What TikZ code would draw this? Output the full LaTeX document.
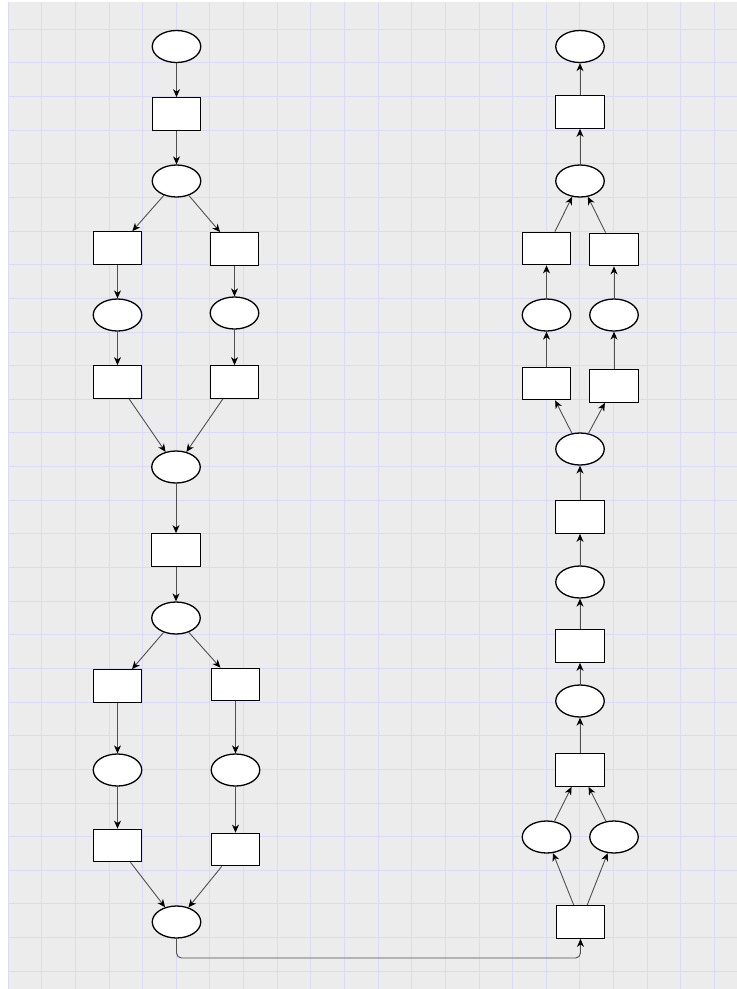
\documentclass[tikz,border=0pt]{standalone}
\usetikzlibrary{arrows.meta,shapes.geometric}
\definecolor{bggray}{HTML}{ECECEC}
\definecolor{gridc}{HTML}{DADAF6}
\definecolor{edgec}{HTML}{505050}
\begin{document}
\begin{tikzpicture}[x=1pt,y=-1pt,
  place/.style={ellipse,draw=black,fill=white,line width=1.3pt,minimum width=48.5pt,minimum height=32pt,inner sep=0pt},
  trans/.style={rectangle,draw=black,fill=white,line width=1.3pt,minimum width=48.5pt,minimum height=32.5pt,inner sep=0pt},
  arc/.style={draw=edgec,line width=0.9pt,-{Stealth[length=8pt,width=7pt,inset=2.5pt,color=black]}},
  gridline/.style={draw=gridc,line width=1pt}]
\useasboundingbox (0,0) rectangle (737,989);
\fill[white] (0,0) rectangle (737,989);
\fill[bggray] (8,2) rectangle (737,989);
\foreach \i in {0,...,21} \draw[gridline] ({8.1+33.64*\i},2) -- ({8.1+33.64*\i},989);
\foreach \j in {0,...,28} \draw[gridline] (8,{29.3+33.64*\j}) -- (737,{29.3+33.64*\j});

% left column
\node[place] (L1) at (176.5,46.5) {};
\node[trans] (L2) at (176.5,114) {};
\node[place] (L3) at (176.5,181) {};
\node[trans] (L4a) at (117.5,248) {};
\node[trans] (L4b) at (234.5,249) {};
\node[place] (L5a) at (117.5,315) {};
\node[place] (L5b) at (234.5,313) {};
\node[trans] (L6a) at (117.5,382) {};
\node[trans] (L6b) at (234.5,382) {};
\node[place] (L7) at (176,467) {};
\node[trans] (L8) at (176,550) {};
\node[place] (L9) at (176,618) {};
\node[trans] (L10a) at (117.5,686) {};
\node[trans] (L10b) at (235.5,684.5) {};
\node[place] (L11a) at (117.5,770) {};
\node[place] (L11b) at (235.5,770) {};
\node[trans] (L12a) at (117.5,845.5) {};
\node[trans] (L12b) at (235.5,849.5) {};
\node[place] (L13) at (176.5,922) {};

% right column
\node[place] (R1) at (580,46.5) {};
\node[trans] (R2) at (580,112) {};
\node[place] (R3) at (580,181) {};
\node[trans] (R4a) at (546.5,248.5) {};
\node[trans] (R4b) at (614,249.5) {};
\node[place] (R5a) at (546.5,315) {};
\node[place] (R5b) at (614,315) {};
\node[trans] (R6a) at (546.5,383.5) {};
\node[trans] (R6b) at (614,386) {};
\node[place] (R7) at (580,449) {};
\node[trans] (R8) at (580,517) {};
\node[place] (R9) at (580,582) {};
\node[trans] (R10) at (580,646) {};
\node[place] (R11) at (580,701) {};
\node[trans] (R12) at (580,770) {};
\node[place] (R13a) at (546.5,837) {};
\node[place] (R13b) at (614,837) {};
\node[trans] (R14) at (580.5,922) {};

% left edges
\foreach \a/\b in {L1/L2,L2/L3,L3/L4a,L3/L4b,L4a/L5a,L4b/L5b,L5a/L6a,L5b/L6b,L6a/L7,L6b/L7,L7/L8,L8/L9,L9/L10a,L9/L10b,L10a/L11a,L10b/L11b,L11a/L12a,L11b/L12b,L12a/L13,L12b/L13}
  \draw[arc] (\a) -- (\b);
% right edges
\foreach \a/\b in {R14/R13a,R14/R13b,R13a/R12,R13b/R12,R12/R11,R11/R10,R10/R9,R9/R8,R8/R7,R7/R6a,R7/R6b,R6a/R5a,R6b/R5b,R5a/R4a,R5b/R4b,R4a/R3,R4b/R3,R3/R2,R2/R1}
  \draw[arc] (\a) -- (\b);
% bottom connector
\coordinate (bend) at (0,958);
\draw[arc,rounded corners=5pt] (L13.south) -- (L13.south |- bend) -| (R14.south);
\end{tikzpicture}
\end{document}
